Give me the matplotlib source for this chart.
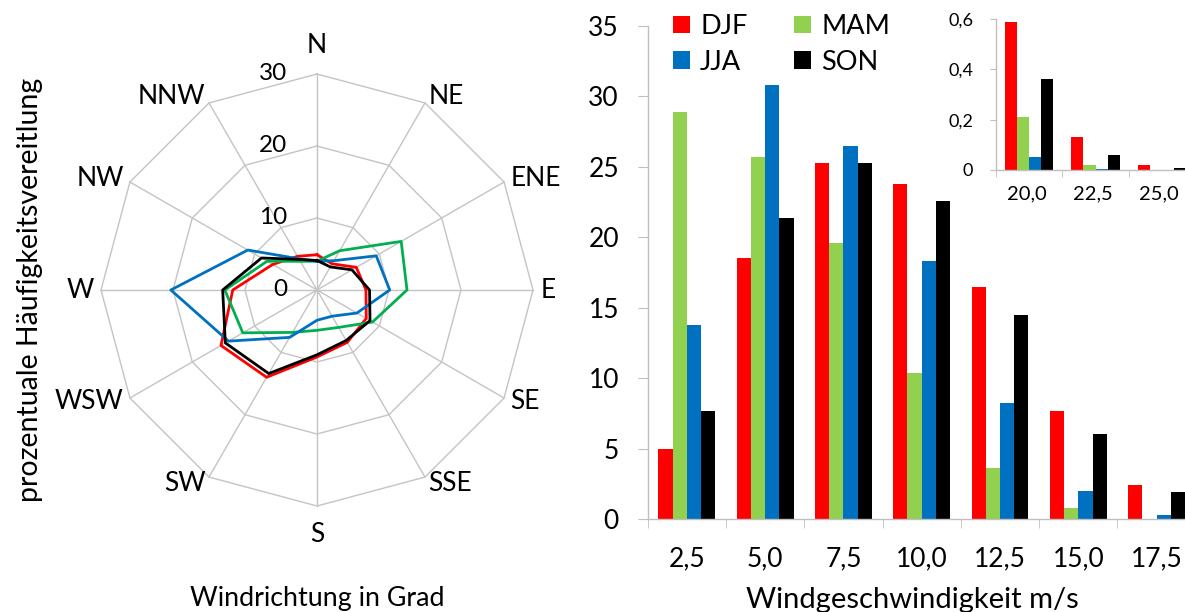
import numpy as np
import matplotlib
matplotlib.use("Agg")
import matplotlib.pyplot as plt

plt.rcParams['font.family'] = ['Lato', 'DejaVu Sans']

# Wind direction sectors, clockwise from north
directions = ["N", "NE", "ENE", "E", "SE", "SSE", "S", "SW", "WSW", "W", "NW", "NNW"]

# Frequency per direction sector in % for each season
dir_djf = [4.9, 4.2, 6.3, 6.8, 7.9, 8.4, 9.3, 14.0, 15.4, 11.7, 7.1, 5.4]
dir_mam = [4.0, 6.3, 13.5, 12.5, 8.9, 6.0, 5.6, 6.8, 11.9, 12.8, 8.0, 4.6]
dir_jja = [4.0, 4.7, 9.5, 10.1, 6.4, 4.2, 4.2, 7.6, 14.2, 20.3, 11.1, 5.0]
dir_son = [4.1, 3.7, 5.6, 7.3, 8.5, 8.1, 9.0, 13.4, 14.7, 13.1, 8.9, 4.9]
radar_rings = [0, 10, 20, 30]

# Frequency per wind speed class in %
speed_labels = ["2,5", "5,0", "7,5", "10,0", "12,5", "15,0", "17,5"]
spd_djf = [5.0, 18.5, 25.3, 23.8, 16.5, 7.7, 2.4]
spd_mam = [28.9, 25.7, 19.6, 10.4, 3.6, 0.8, 0.0]
spd_jja = [13.8, 30.8, 26.5, 18.3, 8.2, 2.0, 0.3]
spd_son = [7.7, 21.4, 25.3, 22.6, 14.5, 6.0, 1.9]
speed_ticks = [0, 5, 10, 15, 20, 25, 30, 35]

# Rare high wind speed classes (inset)
high_labels = ["20,0", "22,5", "25,0"]
high_djf = [0.59, 0.13, 0.02]
high_mam = [0.21, 0.02, 0.0]
high_jja = [0.05, 0.005, 0.0]
high_son = [0.36, 0.06, 0.008]
high_ticks = [0, 0.2, 0.4, 0.6]
high_ticklabels = ["0", "0,2", "0,4", "0,6"]

seasons = ["DJF", "MAM", "JJA", "SON"]
bar_colors = ["#FF0000", "#92D050", "#0070C0", "#000000"]
line_colors = ["#FF0000", "#00B050", "#0070C0", "#000000"]
GRID = "#C4C4C4"
AXIS = "#BFBFBF"

W, H = 1185, 612
fig = plt.figure(figsize=(W / 100, H / 100), dpi=100)


def style_bar_axes(ax, xsize, ysize, ylen, xlen, ypad, xpad):
    for side in ("top", "right"):
        ax.spines[side].set_visible(False)
    for side in ("left", "bottom"):
        ax.spines[side].set_color(AXIS)
        ax.spines[side].set_linewidth(1)
    ax.tick_params(axis="y", which="major", length=ylen, color=AXIS,
                   labelsize=ysize, pad=ypad)
    ax.tick_params(axis="x", which="major", length=0, labelsize=xsize, pad=xpad)
    ax.tick_params(axis="x", which="minor", length=xlen, color=AXIS)


def grouped_bars(ax, series, positions, shift=0.0):
    bw = 1 / 5.5
    for i, vals in enumerate(series):
        ax.bar(positions + (i - 1.5) * bw, vals, bw, color=bar_colors[i],
               label=seasons[i], linewidth=0)
    ax.set_xlim(-0.5, len(positions) - 0.5)
    ax.set_xticks(positions + shift)
    ax.set_xticks(np.arange(len(positions) + 1) - 0.5, minor=True)


# --- radar: direction distribution ---
ax_r = fig.add_axes([101 / W, 106 / H, 432 / W, 432 / H], projection="polar")
ax_r.set_theta_zero_location("N")
ax_r.set_theta_direction(-1)
ax_r.set_ylim(0, radar_rings[-1])
ax_r.grid(False)
ax_r.spines["polar"].set_visible(False)
ax_r.set_xticks([])
ax_r.set_yticks([])

theta = np.deg2rad(np.arange(len(directions)) * 360 / len(directions))
closed = np.append(theta, theta[0])
for r in radar_rings[1:]:
    ax_r.plot(closed, np.full(closed.shape, r), color=GRID, lw=1, clip_on=False)
for t in theta:
    ax_r.plot([t, t], [0, radar_rings[-1]], color=GRID, lw=1, clip_on=False)

for vals, c in zip([dir_djf, dir_mam, dir_jja, dir_son], line_colors):
    ax_r.plot(closed, np.append(vals, vals[0]), color=c, lw=2.0, clip_on=False)

for t, lab in zip(theta, directions):
    s = np.sin(t)
    if abs(s) < 0.01:
        ax_r.text(t, 34.0, lab, ha="center", va="center", fontsize=19)
    else:
        ax_r.text(t, 31.0, lab, ha="left" if s > 0 else "right",
                  va="center", fontsize=19)

for r in radar_rings:
    ax_r.annotate(str(r), xy=(0, r), xytext=(-30, 0), textcoords="offset pixels",
                  ha="right", va="center", fontsize=17.5)

fig.text(38 / W, 1 - 290 / H, "prozentuale Häufigkeitsvereitlung", rotation=90,
         rotation_mode="anchor", ha="center", va="baseline", fontsize=20.5)
fig.text(317 / W, 6 / H, "Windrichtung in Grad", ha="center", va="baseline",
         fontsize=19.3)

# --- bars: wind speed distribution ---
ax_b = fig.add_axes([647.7 / W, 93 / H, 548 / W, 493 / H])
x = np.arange(len(speed_labels))
grouped_bars(ax_b, [spd_djf, spd_mam, spd_jja, spd_son], x)
ax_b.set_xticklabels(speed_labels)
ax_b.set_ylim(0, speed_ticks[-1])
ax_b.set_yticks(speed_ticks)
style_bar_axes(ax_b, 19, 19, 7, 6.5, 13.7, 20)
fig.text(912 / W, 4 / H, "Windgeschwindigkeit m/s", ha="center", va="baseline",
         fontsize=21)

handles, labels = ax_b.get_legend_handles_labels()
order = [0, 2, 1, 3]
ax_b.legend([handles[i] for i in order], [labels[i] for i in order], ncol=2,
            loc="upper left", bbox_to_anchor=(673 / W, 1 - 14 / H),
            bbox_transform=fig.transFigure, frameon=False, fontsize=19.5,
            borderpad=0, borderaxespad=0, handlelength=0.63, handleheight=0.63,
            handletextpad=0.37, labelspacing=0.40, columnspacing=1.73)

# --- inset: rare high wind speeds ---
ax_i = fig.add_axes([996 / W, 442 / H, 199 / W, 151 / H])
ax_i.patch.set_alpha(0)
xi = np.arange(len(high_labels))
grouped_bars(ax_i, [high_djf, high_mam, high_jja, high_son], xi, shift=-0.04)
ax_i.set_xticklabels(high_labels)
ax_i.set_ylim(0, high_ticks[-1])
ax_i.set_yticks(high_ticks)
ax_i.set_yticklabels(high_ticklabels)
style_bar_axes(ax_i, 14.5, 13, 4.3, 5, 12, 11)

fig.savefig("out.png", dpi=100)
